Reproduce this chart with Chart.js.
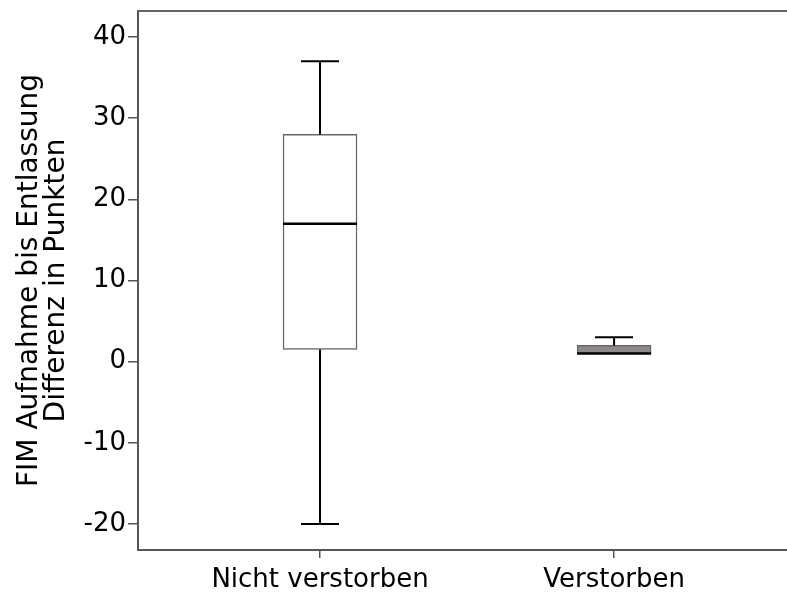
<!doctype html>
<html>

<head>
	<title>FIM Boxplot</title>
	<script src="https://cdn.jsdelivr.net/npm/chart.js@4/dist/chart.umd.min.js"></script>
	<style>
	body {
		margin: 0;
		background: #fff;
	}
	</style>
</head>

<body>
	<canvas id="chart" width="787" height="595"></canvas>
	<script>
		// box plot values
		var groups = ['Nicht verstorben', 'Verstorben'];
		var positions = [1, 2];
		var minVals = [-20, 1];
		var q1Vals = [1.5, 1];
		var medianVals = [17, 1];
		var q3Vals = [28, 2];
		var maxVals = [37, 3];
		var boxColors = ['#ffffff', '#8e8a8a'];
		var yTicks = [-20, -10, 0, 10, 20, 30, 40];

		var FONT = '"DejaVu Sans", sans-serif';

		// whiskers, caps and medians drawn on top of the floating bars
		var boxPlugin = {
			id: 'boxWhiskers',
			afterDatasetsDraw: function(chart) {
				var ctx = chart.ctx;
				var xs = chart.scales.x;
				var ys = chart.scales.y;
				var boxW = 74, capW = 38;
				ctx.save();
				ctx.strokeStyle = '#000';
				ctx.lineCap = 'butt';
				positions.forEach(function(p, i) {
					var x = xs.getPixelForValue(p);
					var yMin = ys.getPixelForValue(minVals[i]);
					var yQ1 = ys.getPixelForValue(q1Vals[i]);
					var yQ3 = ys.getPixelForValue(q3Vals[i]);
					var yMax = ys.getPixelForValue(maxVals[i]);
					var yMed = ys.getPixelForValue(medianVals[i]);
					ctx.lineWidth = 2;
					ctx.beginPath();
					ctx.moveTo(x, yQ3);
					ctx.lineTo(x, yMax);
					ctx.moveTo(x - capW / 2, yMax);
					ctx.lineTo(x + capW / 2, yMax);
					if (yMin - yQ1 > 1) {
						ctx.moveTo(x, yQ1);
						ctx.lineTo(x, yMin);
						ctx.moveTo(x - capW / 2, yMin);
						ctx.lineTo(x + capW / 2, yMin);
					}
					ctx.stroke();
					ctx.lineWidth = 2.5;
					ctx.beginPath();
					ctx.moveTo(x - boxW / 2, yMed);
					ctx.lineTo(x + boxW / 2, yMed);
					ctx.stroke();
				});
				// top edge of the frame
				ctx.strokeStyle = '#666';
				ctx.lineWidth = 2;
				ctx.beginPath();
				ctx.moveTo(chart.chartArea.left, chart.chartArea.top);
				ctx.lineTo(chart.width, chart.chartArea.top);
				ctx.stroke();
				ctx.restore();
			}
		};

		window.onload = function() {
			var ctx = document.getElementById('chart').getContext('2d');
			new Chart(ctx, {
				type: 'bar',
				data: {
					datasets: [{
						data: positions.map(function(p, i) {
							return {x: p, y: [q1Vals[i], q3Vals[i]]};
						}),
						backgroundColor: boxColors,
						borderColor: '#666',
						borderWidth: 1.5,
						borderSkipped: false,
						barThickness: 74
					}]
				},
				options: {
					responsive: false,
					animation: false,
					layout: {padding: {top: 11, left: 0, right: 0, bottom: 0}},
					plugins: {
						legend: {display: false},
						tooltip: {enabled: false}
					},
					scales: {
						x: {
							type: 'linear',
							offset: false,
							min: 0.381,
							max: 2.588,
							afterBuildTicks: function(scale) {
								scale.ticks = positions.map(function(p) { return {value: p}; });
							},
							afterFit: function(scale) {
								scale.height = 45;
								scale.paddingLeft = 0;
								scale.paddingRight = 0;
							},
							grid: {offset: false, drawOnChartArea: false, drawTicks: true, tickLength: 8, color: '#555', lineWidth: 1.5},
							border: {display: true, color: '#555', width: 2},
							ticks: {
								autoSkip: false,
								maxRotation: 0,
								padding: 7,
								color: '#000',
								font: {family: FONT, size: 26},
								callback: function(value, index) { return groups[index]; }
							}
						},
						y: {
							min: -23.2,
							max: 43.2,
							afterBuildTicks: function(scale) {
								scale.ticks = yTicks.map(function(v) { return {value: v}; });
							},
							afterFit: function(scale) {
								scale.width = 138;
								scale.paddingTop = 0;
								scale.paddingBottom = 0;
							},
							grid: {drawOnChartArea: false, drawTicks: true, tickLength: 10, color: '#555', lineWidth: 1.5},
							border: {display: true, color: '#555', width: 2},
							ticks: {
								padding: 2,
								color: '#000',
								font: {family: FONT, size: 26}
							},
							title: {
								display: true,
								text: ['FIM Aufnahme bis Entlassung', 'Differenz in Punkten'],
								color: '#000',
								font: {family: FONT, size: 28, lineHeight: 0.97},
								padding: {top: 16, bottom: 0}
							}
						}
					}
				},
				plugins: [boxPlugin]
			});
		};
	</script>
</body>

</html>
